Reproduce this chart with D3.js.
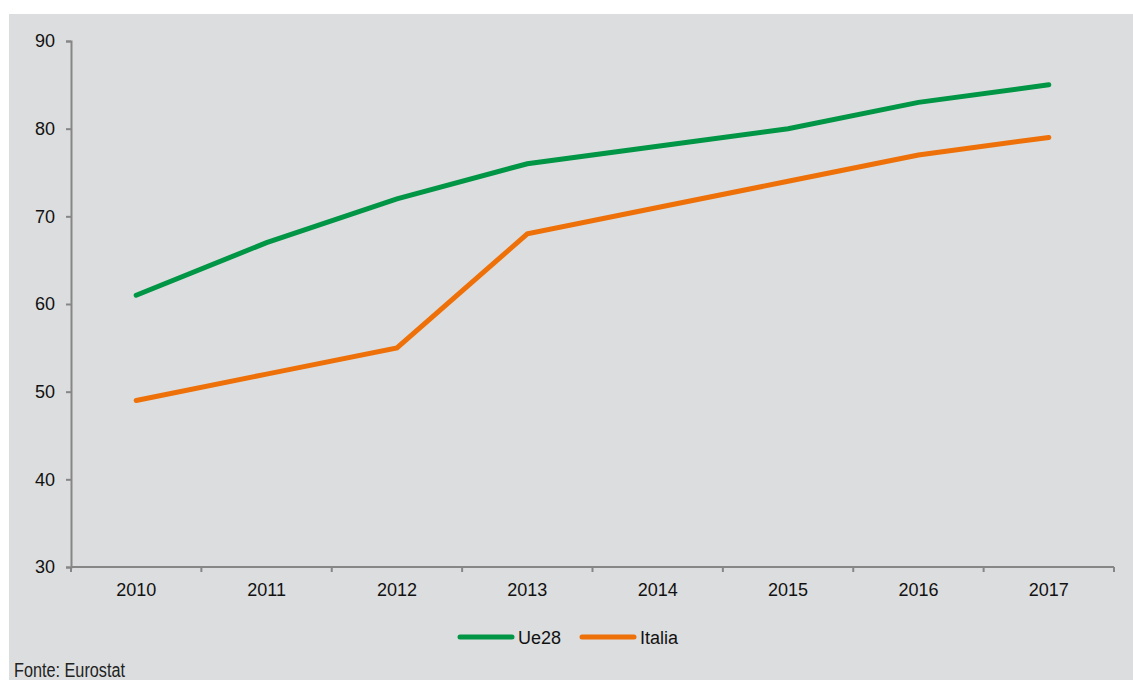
<!DOCTYPE html>
<html>
<head>
<meta charset="utf-8">
<script src="https://cdn.jsdelivr.net/npm/d3@7"></script>
<style>
  body { margin: 0; background: #fff; }
  svg { display: block; }
</style>
</head>
<body>
<div id="chart"></div>
<script>
// Chart data
const years = ["2010", "2011", "2012", "2013", "2014", "2015", "2016", "2017"];
const ue28 = [61, 67, 72, 76, 78, 80, 83, 85];
const italia = [49, 52, 55, 68, 71, 74, 77, 79];
const yTicks = [30, 40, 50, 60, 70, 80, 90];
const seriesNames = ["Ue28", "Italia"];
const seriesColors = ["#009645", "#ee7008"];

const width = 1133;
const height = 680;
const margin = { left: 71, right: 19, top: 41, bottom: 113 };

const svg = d3.select("#chart")
    .append("svg")
    .attr("width", width)
    .attr("height", height);

// Grey panel
svg.append("rect")
    .attr("x", 9).attr("y", 14)
    .attr("width", width - 9).attr("height", height - 14)
    .attr("fill", "#dcdddf");

const x = d3.scaleBand()
    .domain(years)
    .range([margin.left, width - margin.right]);

const y = d3.scaleLinear()
    .domain([30, 90])
    .range([height - margin.bottom, margin.top]);

const axisColor = "#868686";
const font = "Arial, 'Liberation Sans', Helvetica, sans-serif";

// Y axis
const yAxis = svg.append("g")
    .attr("transform", `translate(${margin.left},0)`)
    .call(d3.axisLeft(y).tickValues(yTicks).tickSize(5).tickPadding(11));
yAxis.select(".domain").attr("stroke", axisColor).attr("stroke-width", 2);
yAxis.selectAll(".tick line").attr("stroke", axisColor).attr("stroke-width", 2);
yAxis.selectAll("text")
    .attr("fill", "#111")
    .style("font-family", font)
    .style("font-size", "18px");

// X axis: ticks at category boundaries
const xAxisY = height - margin.bottom;
const xg = svg.append("g");
xg.append("line")
    .attr("x1", margin.left).attr("x2", width - margin.right)
    .attr("y1", xAxisY).attr("y2", xAxisY)
    .attr("stroke", axisColor).attr("stroke-width", 2);
const bounds = years.map(d => x(d)).concat([x(years[years.length - 1]) + x.bandwidth()]);
xg.selectAll(".xtick")
    .data(bounds)
    .enter()
    .append("line")
    .attr("x1", d => d).attr("x2", d => d)
    .attr("y1", xAxisY).attr("y2", xAxisY + 5)
    .attr("stroke", axisColor).attr("stroke-width", 2);
xg.selectAll(".xlabel")
    .data(years)
    .enter()
    .append("text")
    .attr("x", d => x(d) + x.bandwidth() / 2)
    .attr("y", xAxisY + 29)
    .attr("text-anchor", "middle")
    .attr("fill", "#111")
    .style("font-family", font)
    .style("font-size", "18px")
    .text(d => d);

// Lines
const line = d3.line()
    .x((d, i) => x(years[i]) + x.bandwidth() / 2)
    .y(d => y(d));

[ue28, italia].forEach((vals, i) => {
    svg.append("path")
        .datum(vals)
        .attr("d", line)
        .attr("fill", "none")
        .attr("stroke", seriesColors[i])
        .attr("stroke-width", 5)
        .attr("stroke-linecap", "round")
        .attr("stroke-linejoin", "miter");
});

// Legend
const legendY = 637;
const legendStarts = [460, 582];
seriesNames.forEach((name, i) => {
    const lx = legendStarts[i];
    svg.append("line")
        .attr("x1", lx).attr("x2", lx + 52)
        .attr("y1", legendY).attr("y2", legendY)
        .attr("stroke", seriesColors[i])
        .attr("stroke-width", 5)
        .attr("stroke-linecap", "round");
    svg.append("text")
        .attr("x", lx + 58)
        .attr("y", legendY + 7)
        .attr("fill", "#111")
        .style("font-family", font)
        .style("font-size", "18px")
        .text(name);
});

// Source note (condensed look)
svg.append("text")
    .attr("x", 14)
    .attr("y", 677)
    .attr("fill", "#222")
    .attr("textLength", 111)
    .attr("lengthAdjust", "spacingAndGlyphs")
    .style("font-family", font)
    .style("font-size", "20px")
    .text("Fonte: Eurostat");
</script>
</body>
</html>
